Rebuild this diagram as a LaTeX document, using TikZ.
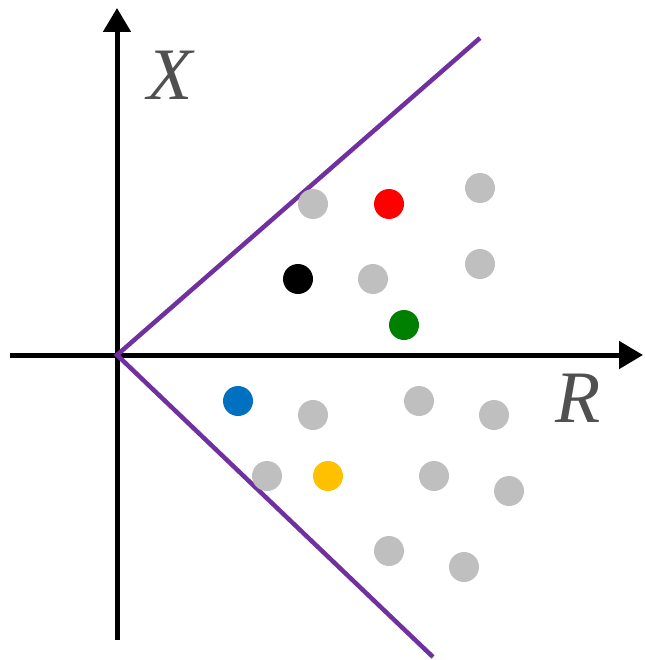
\documentclass[tikz,border=0pt]{standalone}
\usepackage{fontspec}
\setmainfont{Liberation Serif}
\usetikzlibrary{arrows.meta}
\definecolor{conepurple}{HTML}{7030A0}
\definecolor{ptgray}{HTML}{BFBFBF}
\definecolor{ptblue}{HTML}{0070C0}
\definecolor{ptyellow}{HTML}{FFC000}
\definecolor{ptgreen}{HTML}{008000}
\definecolor{lblgray}{HTML}{505050}
\newcommand{\dotradius}{30pt}
\tikzset{ptdot/.style={circle, fill=ptgray, inner sep=0pt, minimum width=\dotradius},
  axis/.style={line width=5pt, -{Triangle[width=27pt,length=24pt]}}}
\begin{document}
\begin{tikzpicture}[x=1pt,y=-1pt]
\useasboundingbox (0,0) rectangle (644,660);

\coordinate (o) at (117,355);
\coordinate (xs) at (117,640); \coordinate (xe) at (117,8);
\coordinate (rs) at (10,355); \coordinate (re) at (643,355);
\coordinate (u) at (480,38); \coordinate (l) at (433,657);

\draw[axis] (xs) -- (xe);
\draw[axis] (rs) -- (re);

\draw[conepurple, line width=4.5pt] (u) -- (o) -- (l);

% gray points
\node[ptdot] (1) at (313,204) {};
\node[ptdot] (2) at (480,188) {};
\node[ptdot] (3) at (373,279) {};
\node[ptdot] (4) at (480,264) {};
\node[ptdot] (5) at (313,415) {};
\node[ptdot] (6) at (419,401) {};
\node[ptdot] (7) at (494,415) {};
\node[ptdot] (8) at (267,476) {};
\node[ptdot] (9) at (434,476) {};
\node[ptdot] (10) at (509,491) {};
\node[ptdot] (11) at (389,551) {};
\node[ptdot] (12) at (464,567) {};

% coloured points
\node[ptdot, fill=red] (13) at (389,204) {};
\node[ptdot, fill=black] (14) at (298,279) {};
\node[ptdot, fill=ptgreen] (15) at (404,325) {};
\node[ptdot, fill=ptblue] (16) at (238,401) {};
\node[ptdot, fill=ptyellow] (17) at (328,476) {};

\node[anchor=base, text=lblgray, font=\fontsize{74}{74}\selectfont\itshape, inner sep=0pt] (x) at (170,100) {X};
\node[anchor=base, text=lblgray, font=\fontsize{74}{74}\selectfont\itshape, inner sep=0pt] (r) at (578,422) {R};
\end{tikzpicture}
\end{document}
